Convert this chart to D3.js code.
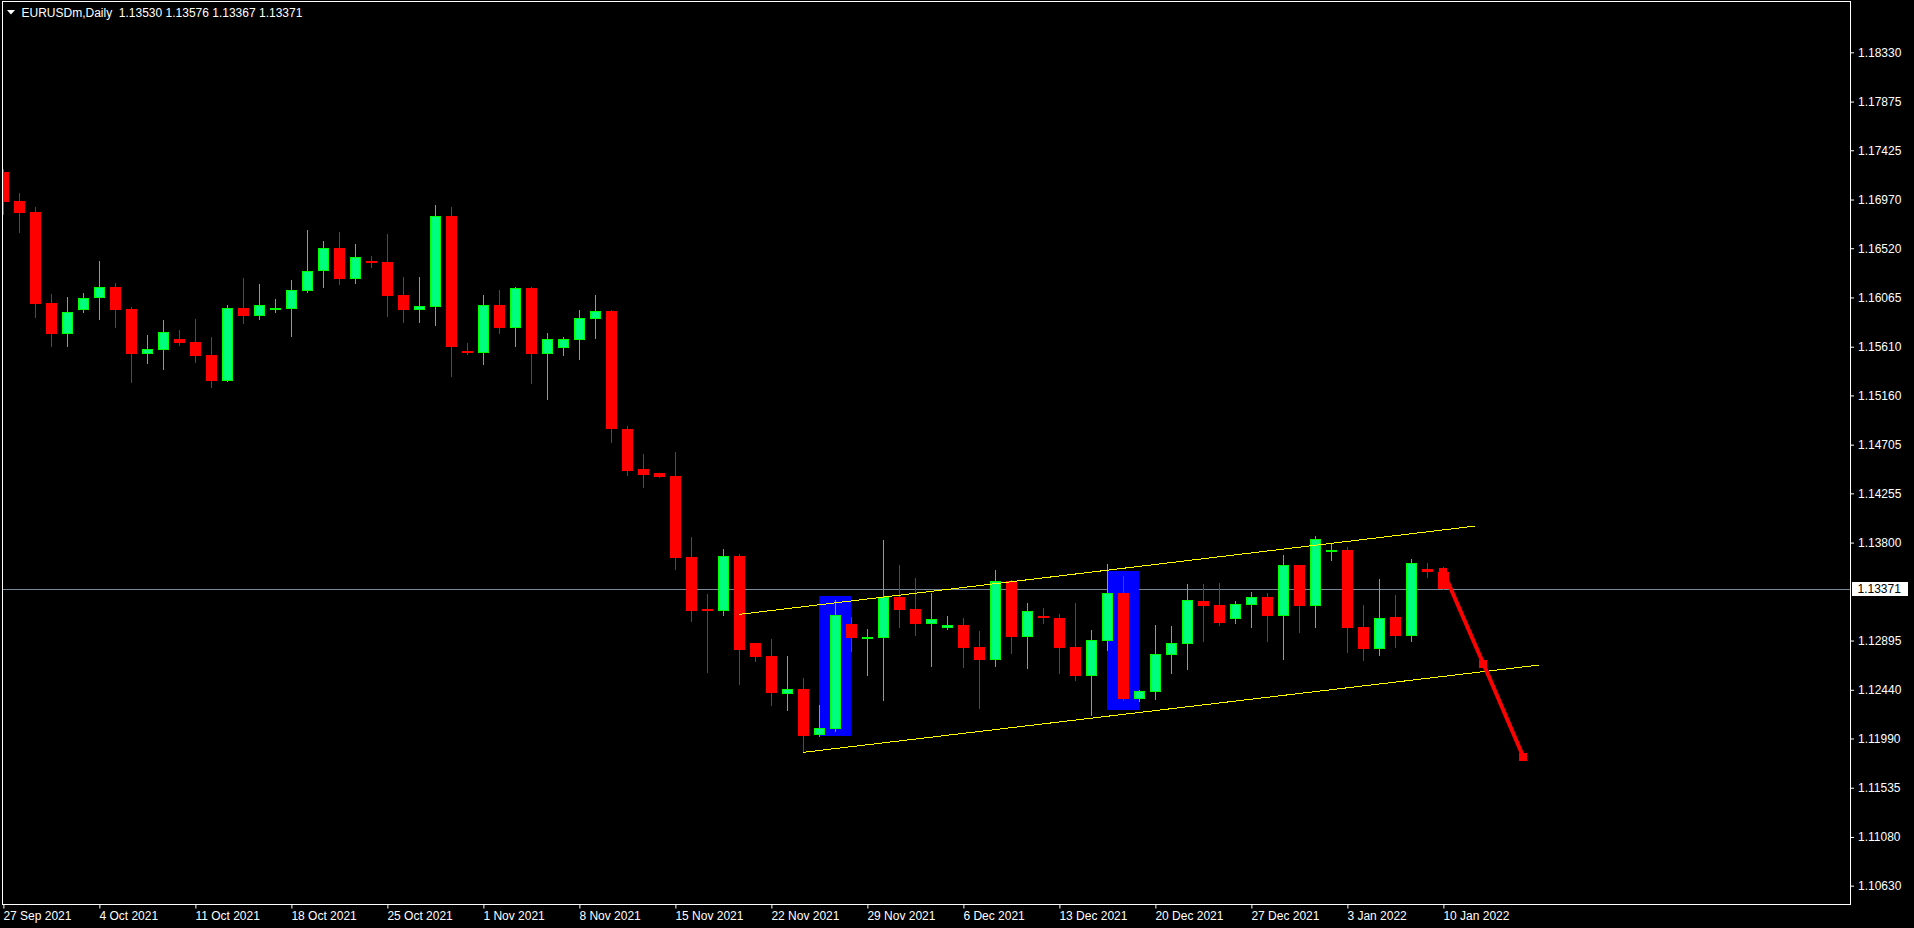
<!DOCTYPE html>
<html><head><meta charset="utf-8">
<script src="https://cdn.jsdelivr.net/npm/d3@7"></script>
<style>
html,body{margin:0;padding:0;background:#000;overflow:hidden;}
svg{display:block;}
text{font-family:"Liberation Sans",Arial,sans-serif;font-size:12px;fill:#fff;}
</style></head><body>
<svg id="chart" width="1914" height="928"></svg>
<script>
// ---------- data ----------
const symbolTitle = "EURUSDm,Daily";
const titleValues = ["1.13530", "1.13576", "1.13367", "1.13371"];

const opens = [1.17224,1.16956,1.16854,1.16013,1.15730,1.15952,1.16063,1.16161,1.15958,1.15545,
1.15582,1.15681,1.15653,1.15533,1.15296,1.15967,1.15896,1.15952,1.15958,1.16127,
1.16312,1.16522,1.16238,1.16401,1.16392,1.16087,1.15952,1.15979,1.16817,1.15570,
1.15554,1.15995,1.15785,1.16152,1.15545,1.15601,1.15675,1.15869,1.15940,1.14849,
1.14480,1.14443,1.14415,1.13667,1.13186,1.13168,1.13676,1.12872,1.12752,1.12401,
1.12447,1.12022,1.12077,1.13047,1.12909,1.12918,1.13297,1.13186,1.13047,1.13010,
1.13038,1.12835,1.12715,1.13445,1.12927,1.13121,1.13103,1.12835,1.12567,1.12890,
1.13334,1.12354,1.12419,1.12761,1.12863,1.13260,1.13223,1.13094,1.13223,1.13297,
1.13121,1.13593,1.13214,1.13713,1.13731,1.13020,1.12816,1.13112,1.12937,1.13556,
1.13530];
const highs = [1.17251,1.17030,1.16900,1.16096,1.16069,1.16103,1.16401,1.16198,1.15976,1.15718,
1.15856,1.15764,1.15866,1.15699,1.15995,1.16244,1.16189,1.16050,1.16226,1.16688,
1.16586,1.16669,1.16558,1.16448,1.16651,1.16254,1.16254,1.16919,1.16900,1.15644,
1.16087,1.16133,1.16161,1.16161,1.15736,1.15699,1.15949,1.16087,1.15949,1.14877,
1.14618,1.14443,1.14637,1.13851,1.13325,1.13740,1.13694,1.12872,1.12909,1.12752,
1.12548,1.12299,1.13269,1.13112,1.13001,1.13824,1.13593,1.13473,1.13334,1.13121,
1.13103,1.12983,1.13546,1.13450,1.13242,1.13195,1.13140,1.13242,1.12992,1.13602,
1.13491,1.12438,1.13038,1.13029,1.13417,1.13417,1.13426,1.13260,1.13343,1.13334,
1.13685,1.13593,1.13861,1.13787,1.13759,1.13223,1.13463,1.13315,1.13648,1.13611,
1.13576];
const lows = [1.16836,1.16672,1.15887,1.15619,1.15619,1.15930,1.15869,1.15792,1.15286,1.15462,
1.15407,1.15628,1.15471,1.15240,1.15290,1.15832,1.15869,1.15930,1.15711,1.16120,
1.16161,1.16192,1.16201,1.16346,1.15896,1.15838,1.15838,1.15813,1.15342,1.15545,
1.15453,1.15739,1.15619,1.15277,1.15129,1.15536,1.15499,1.15693,1.14732,1.14427,
1.14316,1.14406,1.13559,1.13075,1.12607,1.13131,1.12493,1.12706,1.12299,1.12253,
1.11865,1.12015,1.12059,1.12798,1.12576,1.12345,1.13020,1.12946,1.12659,1.13005,
1.12650,1.12271,1.12659,1.12780,1.12641,1.13057,1.12595,1.12530,1.12207,1.12807,
1.12345,1.12336,1.12354,1.12595,1.12632,1.12890,1.13038,1.13057,1.13020,1.12890,
1.12724,1.12974,1.13020,1.13639,1.12789,1.12715,1.12761,1.12835,1.12890,1.13482,
1.13367];
const closes = [1.16950,1.16848,1.16007,1.15730,1.15930,1.16060,1.16161,1.15952,1.15545,1.15588,
1.15745,1.15647,1.15527,1.15296,1.15967,1.15896,1.15995,1.15967,1.16133,1.16309,
1.16522,1.16235,1.16438,1.16383,1.16081,1.15952,1.15986,1.16817,1.15607,1.15554,
1.15995,1.15785,1.16152,1.15545,1.15681,1.15681,1.15875,1.15939,1.14852,1.14464,
1.14427,1.14406,1.13660,1.13168,1.13168,1.13676,1.12807,1.12743,1.12410,1.12447,
1.12013,1.12087,1.13131,1.12918,1.12927,1.13297,1.13177,1.13047,1.13094,1.13038,
1.12826,1.12715,1.13445,1.12927,1.13168,1.13103,1.12826,1.12567,1.12900,1.13334,
1.12354,1.12428,1.12770,1.12872,1.13269,1.13214,1.13057,1.13232,1.13297,1.13121,
1.13593,1.13214,1.13833,1.13731,1.13010,1.12816,1.13103,1.12937,1.13611,1.13528,
1.13371];

const dateLabels = ["27 Sep 2021","4 Oct 2021","11 Oct 2021","18 Oct 2021","25 Oct 2021","1 Nov 2021",
"8 Nov 2021","15 Nov 2021","22 Nov 2021","29 Nov 2021","6 Dec 2021","13 Dec 2021","20 Dec 2021",
"27 Dec 2021","3 Jan 2022","10 Jan 2022"];
const dateLabelIdx = [0,6,12,18,24,30,36,42,48,54,60,66,72,78,84,90];

const priceTicks = [1.18330,1.17875,1.17425,1.16970,1.16520,1.16065,1.15610,1.15160,1.14705,
1.14255,1.13800,1.12895,1.12440,1.11990,1.11535,1.11080,1.10630];
const lastPrice = 1.13371;

// drawn objects
const upperLineIdx = [46, 92];
const upperLinePrice = [1.13137, 1.13953];
const lowerLineIdx = [50, 96];
const lowerLinePrice = [1.11862, 1.12669];
const boxStartIdx = [51, 69];
const boxEndIdx = [53, 71];
const boxTop = [1.13306, 1.13537];
const boxBottom = [1.12013, 1.12253];
const arrowIdx = [90, 92.5, 95];
const arrowPrice = [1.13530, 1.12681, 1.11819];

// ---------- chart ----------
const svg = d3.select("#chart");
const plot = {left: 2.5, top: 1.5, right: 1850.5, bottom: 904.5};

const x = d3.scaleLinear().domain([0, 90]).range([3.4, 1443.4]);
const y = d3.scaleLinear().domain([1.10630, 1.18330]).range([885.67, 52.33]);

svg.append("rect").attr("width",1914).attr("height",928).attr("fill","#000");

svg.append("defs").append("clipPath").attr("id","clip")
  .append("rect").attr("x",3).attr("y",2).attr("width",1847).attr("height",902);

const g = svg.append("g").attr("clip-path","url(#clip)");

// current price line
const yl = Math.round(y(lastPrice)) + 0.5;
g.append("line").attr("x1",plot.left).attr("x2",plot.right).attr("y1",yl).attr("y2",yl)
  .attr("stroke","#778899").attr("stroke-width",1).attr("shape-rendering","crispEdges");

// blue boxes
g.selectAll("rect.box").data(boxStartIdx).enter().append("rect").attr("class","box")
  .attr("x",(d)=>Math.floor(x(d)))
  .attr("width",(d,i)=>Math.floor(x(boxEndIdx[i]))-Math.floor(x(d)))
  .attr("y",(d,i)=>Math.round(y(boxTop[i])))
  .attr("height",(d,i)=>Math.round(y(boxBottom[i]))-Math.round(y(boxTop[i])))
  .attr("fill","#0000ff").attr("shape-rendering","crispEdges");

// candles
const bars = d3.range(opens.length).map(i=>({i, o:opens[i], h:highs[i], l:lows[i], c:closes[i]}));
const cg = g.selectAll("g.candle").data(bars).enter().append("g").attr("class","candle");
cg.append("line")
  .attr("x1",d=>Math.floor(x(d.i))+0.5).attr("x2",d=>Math.floor(x(d.i))+0.5)
  .attr("y1",d=>Math.round(y(d.h))).attr("y2",d=>Math.round(y(d.l))+1)
  .attr("stroke",d=>d.c>=d.o?"#00ff00":"#ff0000").attr("stroke-width",1)
  .attr("shape-rendering","crispEdges");
cg.append("rect")
  .attr("x",d=>Math.floor(x(d.i))-5+(d.c>=d.o?0.5:0))
  .attr("width",d=>d.c>=d.o?10:11)
  .attr("y",d=>{const t=Math.round(y(Math.max(d.o,d.c)));return d.c>=d.o?t+0.5:t;})
  .attr("height",d=>{const t=Math.round(y(Math.max(d.o,d.c)));const b=Math.round(y(Math.min(d.o,d.c)));
      const h=Math.max(b-t,2);return d.c>=d.o?Math.max(h-1,1):h;})
  .attr("fill",d=>d.c>=d.o?"#00ff7f":"#ff0000")
  .attr("stroke",d=>d.c>=d.o?"#00ff00":"none").attr("stroke-width",1)
  .attr("shape-rendering","crispEdges");

// channel lines
const lineGen = d3.line().x(d=>x(d[0])).y(d=>y(d[1]));
g.append("path").datum(upperLineIdx.map((d,i)=>[d,upperLinePrice[i]]))
  .attr("d",lineGen).attr("stroke","#ffff00").attr("stroke-width",1).attr("fill","none")
  .attr("shape-rendering","crispEdges");
g.append("path").datum(lowerLineIdx.map((d,i)=>[d,lowerLinePrice[i]]))
  .attr("d",lineGen).attr("stroke","#ffff00").attr("stroke-width",1).attr("fill","none")
  .attr("shape-rendering","crispEdges");

// red arrow polyline
const arrowPts = arrowIdx.map((d,i)=>[d,arrowPrice[i]]);
g.append("path").datum(arrowPts).attr("d",lineGen)
  .attr("stroke","#ff0000").attr("stroke-width",4).attr("fill","none").attr("stroke-linejoin","miter");
g.selectAll("rect.mk").data(arrowPts).enter().append("rect").attr("class","mk")
  .attr("x",d=>Math.round(x(d[0]))-4).attr("y",d=>Math.round(y(d[1]))-4)
  .attr("width",8).attr("height",8).attr("fill","#ff0000");

// border
svg.append("rect").attr("x",plot.left).attr("y",plot.top)
  .attr("width",plot.right-plot.left).attr("height",plot.bottom-plot.top)
  .attr("fill","none").attr("stroke","#ffffff").attr("stroke-width",1);

// y axis
const yAxis = d3.axisRight(y).tickValues(priceTicks).tickFormat(d3.format(".5f")).tickSize(3).tickSizeOuter(0).tickPadding(4);
const ya = svg.append("g").attr("transform",`translate(${plot.right+0.5},0)`).call(yAxis);
ya.select(".domain").remove();
ya.selectAll(".tick line").attr("stroke","#ffffff");
ya.selectAll(".tick text").attr("fill","#ffffff").style("font-family","Liberation Sans").style("font-size","12px");

// last price label
const lp = svg.append("g");
lp.append("rect").attr("x",1852).attr("y",Math.round(y(lastPrice))-7).attr("width",56).attr("height",14).attr("fill","#ffffff");
lp.append("text").attr("x",1857.5).attr("y",y(lastPrice)).attr("dy","0.36em")
  .style("fill","#000000").text(d3.format(".5f")(lastPrice));

// x axis
const xAxis = d3.axisBottom(x).tickValues(dateLabelIdx).tickFormat((d,i)=>dateLabels[i]).tickSize(4).tickSizeOuter(0);
const xa = svg.append("g").attr("transform",`translate(0,${plot.bottom})`).call(xAxis);
xa.select(".domain").remove();
xa.selectAll(".tick line").attr("stroke","#ffffff");
xa.selectAll(".tick text").attr("fill","#ffffff").attr("text-anchor","start")
  .attr("x",-0.5).attr("y",15).attr("dy",0).style("font-family","Liberation Sans").style("font-size","12px");

// title
svg.append("path").attr("d","M7,10 L15,10 L11,14.5 Z").attr("fill","#ffffff");
svg.append("text").attr("x",21.5).attr("y",16.5).attr("xml:space","preserve").style("white-space","pre")
  .text(symbolTitle + "  " + titleValues.join(" "));
</script>
</body></html>
